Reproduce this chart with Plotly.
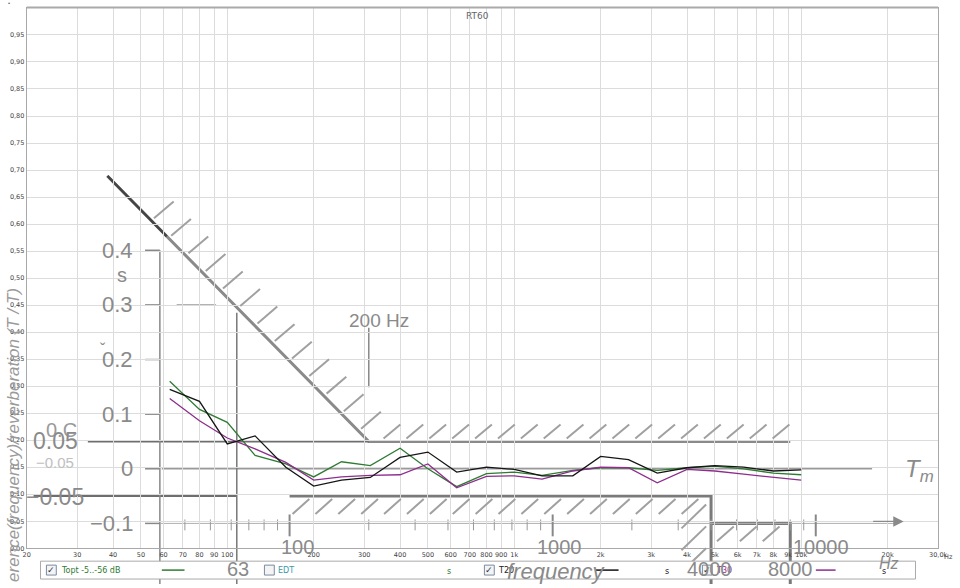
import numpy as np
import plotly.graph_objects as go

W, H = 960, 588

# ---------------- REW RT60 data (1/3 octave bands) ----------------
bands = [63, 80, 100, 125, 160, 200, 250, 315, 400, 500, 630, 800, 1000,
         1250, 1600, 2000, 2500, 3150, 4000, 5000, 6300, 8000, 10000]
topt = [0.309, 0.257, 0.233, 0.172, 0.156, 0.132, 0.160, 0.153, 0.185, 0.147, 0.114, 0.138,
        0.141, 0.135, 0.144, 0.149, 0.149, 0.144, 0.149, 0.152, 0.147, 0.139, 0.136]
t20 = [0.294, 0.272, 0.193, 0.208, 0.150, 0.115, 0.126, 0.131, 0.168, 0.178, 0.141, 0.150,
       0.146, 0.134, 0.134, 0.170, 0.164, 0.139, 0.149, 0.153, 0.150, 0.143, 0.145]
t30 = [0.277, 0.236, 0.204, 0.184, 0.159, 0.126, 0.132, 0.135, 0.136, 0.156, 0.112, 0.133,
       0.134, 0.128, 0.143, 0.150, 0.149, 0.121, 0.146, 0.143, 0.137, 0.132, 0.126]

x_tick_vals = [20, 30, 40, 50, 60, 70, 80, 90, 100, 200, 300, 400, 500, 600, 700, 800, 900,
               1000, 2000, 3000, 4000, 5000, 6000, 7000, 8000, 9000, 10000, 20000, 30000]
x_tick_text = ["20", "30", "40", "50", "60", "70", "80", "90", "100", "200", "300", "400", "500",
               "600", "700", "800", "900", "1k", "2k", "3k", "4k", "5k", "6k", "7k", "8k", "9k",
               "10k", "20k", "30,0k"]
y_tick_vals = [round(0.05 * i, 2) for i in range(20)]
y_tick_text = ["%.2f" % v for v in y_tick_vals]
y_tick_text = [t.replace(".", ",") for t in y_tick_text]

# ---------------- overlaid tolerance diagram (relative units) ----------------
tol_upper_f = [20.3, 200, 8000]
tol_upper_v = [0.536, 0.05, 0.05]
tol_lower1_f = [100, 4000, 4000]
tol_lower1_v = [-0.05, -0.05, -0.211]
tol_lower2_f = [4000, 8000, 8000]
tol_lower2_v = [-0.1, -0.1, -0.211]
ov_y_labels = ["0.4", "0.3", "0.2", "0.1", "0", "\u22120.1"]
ov_y_values = [0.4, 0.3, 0.2, 0.1, 0.0, -0.1]
ov_minor_f = [40, 50, 60, 70, 80, 90, 200, 300, 400, 500, 600, 700, 800, 900,
              2000, 3000, 4000, 5000, 6000, 7000, 8000, 9000]
ov_major_f = [100, 1000, 10000]

# overlay coordinate system (pixel mapping of the pasted diagram)
OX0, OXD = 289.5, 266.7   # px of 100 Hz, px per decade
OY0, OYS = 472.0, 550.0   # px of 0, px per unit


def f2px(f):
    return OX0 + OXD * (np.log10(f) - 2)


def v2py(v):
    return OY0 - OYS * v


def px2f(px):
    return 10 ** (2 + (px - OX0) / OXD)


def py2v(py):
    return (OY0 - py) / OYS


fig = go.Figure()

GRAY = "#8a8a8a"
OVL = dict(xaxis="x", yaxis="y", mode="lines", hoverinfo="skip", showlegend=False)

# tolerance limits
fig.add_trace(go.Scatter(x=tol_upper_f, y=tol_upper_v, line=dict(color=GRAY, width=3), **OVL))
dark_f = [tol_upper_f[0], px2f(165)]
dark_v = list(np.interp(np.log10(dark_f), np.log10(tol_upper_f[:2]), tol_upper_v[:2]))
fig.add_trace(go.Scatter(x=dark_f, y=dark_v, line=dict(color="#444", width=2.5), **OVL))
fig.add_trace(go.Scatter(x=tol_lower1_f, y=tol_lower1_v, line=dict(color="#7a7a7a", width=3), **OVL))
fig.add_trace(go.Scatter(x=tol_lower2_f, y=tol_lower2_v, line=dict(color="#7a7a7a", width=3), **OVL))

# reference lines of the diagram
fig.add_trace(go.Scatter(x=[px2f(85), 200], y=[0.05, 0.05], line=dict(color="#6e6e6e", width=2), **OVL))
fig.add_trace(go.Scatter(x=[px2f(30), 63], y=[-0.05, -0.05], line=dict(color="#6e6e6e", width=2), **OVL))
fig.add_trace(go.Scatter(x=[px2f(160), px2f(880)], y=[0, 0], line=dict(color="#9a9a9a", width=1.5), **OVL))
fig.add_trace(go.Scatter(x=[px2f(158), px2f(158)], y=[0.4, py2v(H)], line=dict(color="#888", width=1.5), **OVL))
fig.add_trace(go.Scatter(x=[63, 63], y=[py2v(315), py2v(H)], line=dict(color="#777", width=1.5), **OVL))
fig.add_trace(go.Scatter(x=[200, 200], y=[py2v(330), py2v(390)], line=dict(color="#888", width=1.5), **OVL))
fig.add_trace(go.Scatter(x=[px2f(175), px2f(215)], y=[0.3, 0.3], line=dict(color="#999", width=1.5), **OVL))
fig.add_trace(go.Scatter(x=[px2f(158), px2f(905)], y=[-0.1, -0.1], line=dict(color="#b0b0b0", width=1), **OVL))
for v in ov_y_values:
    fig.add_trace(go.Scatter(x=[px2f(143), px2f(158)], y=[v, v], line=dict(color="#888", width=1.5), **OVL))
for f in ov_minor_f:
    fig.add_trace(go.Scatter(x=[f, f], y=[py2v(523), py2v(534)], line=dict(color="#999", width=1), **OVL))
for f in ov_major_f:
    fig.add_trace(go.Scatter(x=[f, f], y=[py2v(518), py2v(540)], line=dict(color="#888", width=2), **OVL))

# REW measurement curves
REW = dict(xaxis="x2", yaxis="y2", mode="lines", hoverinfo="skip", showlegend=False)
fig.add_trace(go.Scatter(x=bands, y=topt, line=dict(color="#2e7b32", width=1.3), **REW))
fig.add_trace(go.Scatter(x=bands, y=t30, line=dict(color="#8e2d8e", width=1.3), **REW))
fig.add_trace(go.Scatter(x=bands, y=t20, line=dict(color="#151515", width=1.3), **REW))

shapes = []


def pline(x0, y0, x1, y1, color="#a0a0a0", width=2):
    shapes.append(dict(type="line", xref="paper", yref="paper",
                       x0=x0 / W, y0=1 - y0 / H, x1=x1 / W, y1=1 - y1 / H,
                       line=dict(color=color, width=width), layer="above"))


# hatching of the tolerance diagram
dx0, dy0 = f2px(tol_upper_f[0]), v2py(tol_upper_v[0])
dx1, dy1 = f2px(tol_upper_f[1]), v2py(tol_upper_v[1])
for x in np.arange(150, dx1 - 4, 17.5):
    y = dy0 + (x - dx0) * (dy1 - dy0) / (dx1 - dx0)
    pline(x + 2, y - 3, x + 22, y - 20)
yu = v2py(0.05)
for x in np.arange(dx1 + 15, f2px(8000) - 16, 23.2):
    pline(x, yu - 3, x + 17, yu - 17)
yl = v2py(-0.05)
for x in np.arange(f2px(100) + 3, f2px(4000) - 16, 23.2):
    pline(x, yl + 18, x + 17, yl + 3)
yl2 = v2py(-0.1)
for x in np.arange(f2px(4000) + 6, f2px(8000) - 16, 23.2):
    pline(x, yl2 + 18, x + 17, yl2 + 3)
xv = f2px(4000)
for y in [522, 544, 566]:
    pline(xv - 30, y + 10, xv - 5, y - 14)

# REW frame top border
pline(23, 7.5, 947, 7.5, color="#aaa", width=2)

# legend box
def prect(x0, y0, x1, y1, color="#aaa", fill="white", width=1):
    shapes.append(dict(type="rect", xref="paper", yref="paper",
                       x0=x0 / W, y0=1 - y1 / H, x1=x1 / W, y1=1 - y0 / H,
                       line=dict(color=color, width=width), fillcolor=fill, layer="above"))


prect(37, 565, 924, 583)
for cx in [43, 264, 487, 708]:
    prect(cx, 569, cx + 10, 579, color="#7a8aa0", fill="#f4f4f4")
pline(160, 574, 183, 574, color="#2e7b32", width=1.5)
pline(600, 574, 623, 574, color="#111", width=1.5)
pline(823, 574, 843, 574, color="#8e2d8e", width=1.5)

annotations = []


def ptext(x, y, text, size=20, color="#8a8a8a", xanchor="center", italic=False,
          family="Liberation Sans", angle=0, yanchor="middle"):
    annotations.append(dict(x=x / W, y=1 - y / H, xref="paper", yref="paper", text=text,
                            showarrow=False, xanchor=xanchor, yanchor=yanchor, textangle=angle,
                            font=dict(size=size, color=color, family=family,
                                      style="italic" if italic else "normal")))


# REW texts
ptext(480, 16, "RT60", size=9, color="#666", family="DejaVu Sans")
ptext(957, 561, "Hz", size=6.5, color="#444", family="DejaVu Sans")
ptext(5, 3, "\u2022", size=6, color="#666")

# legend texts
for cx in [43, 487, 708]:
    ptext(cx + 5, 574, "\u2713", size=9, color="#234", family="DejaVu Sans")
ptext(56, 574, "Topt -5..-56 dB", size=8, color="#2e7b32", xanchor="left", family="DejaVu Sans")
ptext(276, 574, "EDT", size=8, color="#3a9aa8", xanchor="left", family="DejaVu Sans")
ptext(451, 575, "s", size=8, color="#2e7b32", family="DejaVu Sans")
ptext(499, 574, "T20", size=8, color="#222", xanchor="left", family="DejaVu Sans")
ptext(672, 575, "s", size=8, color="#222", family="DejaVu Sans")
ptext(720, 574, "T30", size=8, color="#8e2d8e", xanchor="left", family="DejaVu Sans")
ptext(892, 575, "s", size=8, color="#222", family="DejaVu Sans")

# overlay diagram texts
for lab, v in zip(ov_y_labels, ov_y_values):
    ptext(133, v2py(v), lab, size=22, xanchor="right")
ptext(120, 277, "s", size=20)
ptext(100, 352, "\u02c7", size=16)
ptext(58, 433, "0.C", size=20, color="#9a9a9a")
ptext(52, 444, "0.05", size=23)
ptext(52, 466, "\u22120.05", size=15, color="#c0c0c0")
ptext(52, 500, "\u22120.05", size=23)
ptext(380, 323, "200 Hz", size=19)
ptext(298, 551, "100", size=20)
ptext(563, 551, "1000", size=20)
ptext(828, 551, "10000", size=20)
ptext(237, 573, "63", size=20)
ptext(715, 573, "4000", size=20)
ptext(797, 573, "8000", size=20)
ptext(897, 567, "Hz", size=16, italic=True)
ptext(560, 575, "frequency", size=22, italic=True)
ptext(928, 474, "<i>T</i><sub><i>m</i></sub>", size=24)
ptext(9, 588, "erence(frequency)/reverberation (T / T)", size=17, color="#9a9a9a",
      italic=True, angle=-90, yanchor="bottom")

annotations.append(dict(x=912 / W, y=1 - 525 / H, xref="paper", yref="paper",
                        ax=-32, ay=0, text="", showarrow=True, arrowhead=2,
                        arrowsize=1.6, arrowwidth=1.3, arrowcolor="#8a8a8a"))

fig.update_layout(
    width=W, height=H,
    margin=dict(l=0, r=0, t=0, b=0),
    paper_bgcolor="white", plot_bgcolor="rgba(0,0,0,0)",
    showlegend=False,
    shapes=shapes, annotations=annotations,
    xaxis=dict(type="log", range=[2 - OX0 / OXD, 2 + (W - OX0) / OXD], domain=[0, 1],
               anchor="y", visible=False, fixedrange=True),
    yaxis=dict(range=[py2v(H), py2v(0)], domain=[0, 1], anchor="x", visible=False,
               fixedrange=True),
    xaxis2=dict(type="log", range=[np.log10(20), np.log10(30000)], domain=[23 / W, 947 / W],
                anchor="y2", tickvals=x_tick_vals, ticktext=x_tick_text, tickangle=0,
                tickfont=dict(size=6.5, color="#444", family="DejaVu Sans"),
                showgrid=True, gridcolor="#dcdcdc", gridwidth=1, zeroline=False,
                showline=True, linecolor="#a8a8a8", linewidth=1, mirror=True, ticks=""),
    yaxis2=dict(range=[0, 1], domain=[36 / H, 580 / H], anchor="x2",
                tickvals=y_tick_vals, ticktext=y_tick_text,
                tickfont=dict(size=6.5, color="#444", family="DejaVu Sans"),
                showgrid=True, gridcolor="#dcdcdc", gridwidth=1, zeroline=False,
                showline=True, linecolor="#a8a8a8", linewidth=1, mirror=True, ticks=""),
)

fig.write_html("out.html", config={"displayModeBar": False},
               post_script="document.body.style.margin='0px';document.body.style.padding='0px';")
